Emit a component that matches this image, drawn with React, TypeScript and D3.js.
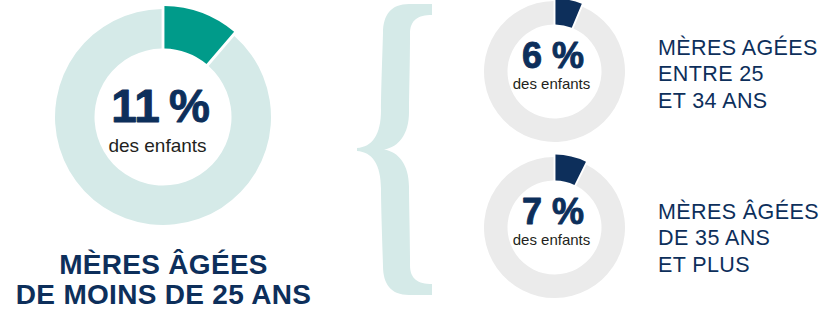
import React from 'react';
import * as d3 from 'd3';

// share of children per mother age group (%)
const shares = [11, 6, 7];
const valueNumbers = ['11', '6', '7'];
const subLabel = 'des enfants';
const mainTitle = ['MÈRES ÂGÉES', 'DE MOINS DE 25 ANS'];
const sideLabels = [
  ['MÈRES AGÉES', 'ENTRE 25', 'ET 34 ANS'],
  ['MÈRES ÂGÉES', 'DE 35 ANS', 'ET PLUS'],
];

const NAVY = '#0d2f5b';
const TEAL = '#009b8a';
const LIGHT_TEAL = '#d5eae8';
const GREY = '#ebebeb';
const FONT = '"Liberation Sans", Arial, Helvetica, sans-serif';

const pie = d3.pie<number>().sort(null).value(d => d).padAngle(0.022);

const Donut = ({ share, cx, cy, inner, outer, bump, hi, lo }) => {
  const slices = pie([share, 100 - share]);
  const arc = d3.arc();
  return (
    <g transform={`translate(${cx},${cy})`}>
      {slices.map((s, i) => (
        <path
          key={i}
          d={arc({
            innerRadius: inner,
            outerRadius: i === 0 ? outer + bump : outer,
            startAngle: s.startAngle,
            endAngle: s.endAngle,
            padAngle: s.padAngle,
          })}
          fill={i === 0 ? hi : lo}
        />
      ))}
    </g>
  );
};

// big "NN %" figure, a bit heavier than plain bold
const Figure = ({ x, y, value, size, sep, spacing }) => (
  <text
    x={x}
    y={y}
    textAnchor="middle"
    fontSize={size}
    fontWeight="bold"
    letterSpacing={spacing}
    fill={NAVY}
    stroke={NAVY}
    strokeWidth={0.9}
    strokeLinejoin="round"
  >
    {value + sep + '%'}
  </text>
);

// curly brace drawn as a filled outline
const bracePath =
  'M75,0 L75,11 C61,11 53,16 53,30 C53,60 52,90 52,108 C52,130 42,143 27,145.5 ' +
  'C42,148 52,161 52,183 C52,201 53,231 53,261 C53,275 61,280 75,280 L75,291 ' +
  'L52,291 C34,291 26,280 26,262 C25,230 24,200 24,185 C24,160 15,148 0,147 ' +
  'L0,144 C15,143 24,131 24,106 C24,91 25,61 26,29 C26,11 34,0 52,0 Z';

export default function App() {
  const big = { cx: 163, cy: 117 };
  const small = [
    { cx: 554.5, cy: 71.5 },
    { cx: 554.5, cy: 227.5 },
  ];
  const sideTop = [55, 219];

  return (
    <svg
      width={826}
      height={310}
      style={{ position: 'absolute', left: 0, top: 0, background: '#fff' }}
      fontFamily={FONT}
    >
      {/* big donut */}
      <Donut share={shares[0]} cx={big.cx} cy={big.cy} inner={68.5} outer={108} bump={3} hi={TEAL} lo={LIGHT_TEAL} />
      <Figure x={big.cx - 2.5} y={big.cy + 5} value={valueNumbers[0]} size={46} sep={'\u202f'} spacing={1.5} />
      <text x={big.cx - 5.5} y={big.cy + 35} textAnchor="middle" fontSize={19} fill="#231f20">
        {subLabel}
      </text>
      {mainTitle.map((t, i) => (
        <text key={t} x={163.5} y={273.5 + i * 30.5} textAnchor="middle" fontSize={28} fontWeight="bold" letterSpacing={0.3} fill={NAVY}>
          {t}
        </text>
      ))}

      {/* brace */}
      <path d={bracePath} transform="translate(357,4)" fill={LIGHT_TEAL} />

      {/* small donuts */}
      {small.map((p, k) => (
        <g key={k}>
          <Donut share={shares[k + 1]} cx={p.cx} cy={p.cy} inner={47} outer={70.5} bump={2.5} hi={NAVY} lo={GREY} />
          <Figure x={p.cx - 1.5} y={p.cy - 4} value={valueNumbers[k + 1]} size={36} sep={' '} spacing={0} />
          <text x={p.cx - 3} y={p.cy + 17} textAnchor="middle" fontSize={15} fill="#231f20">
            {subLabel}
          </text>
          {sideLabels[k].map((t, i) => (
            <text key={t} x={658} y={sideTop[k] + i * 26.3} fontSize={21.5} letterSpacing={0.4} fill={NAVY}>
              {t}
            </text>
          ))}
        </g>
      ))}
    </svg>
  );
}
